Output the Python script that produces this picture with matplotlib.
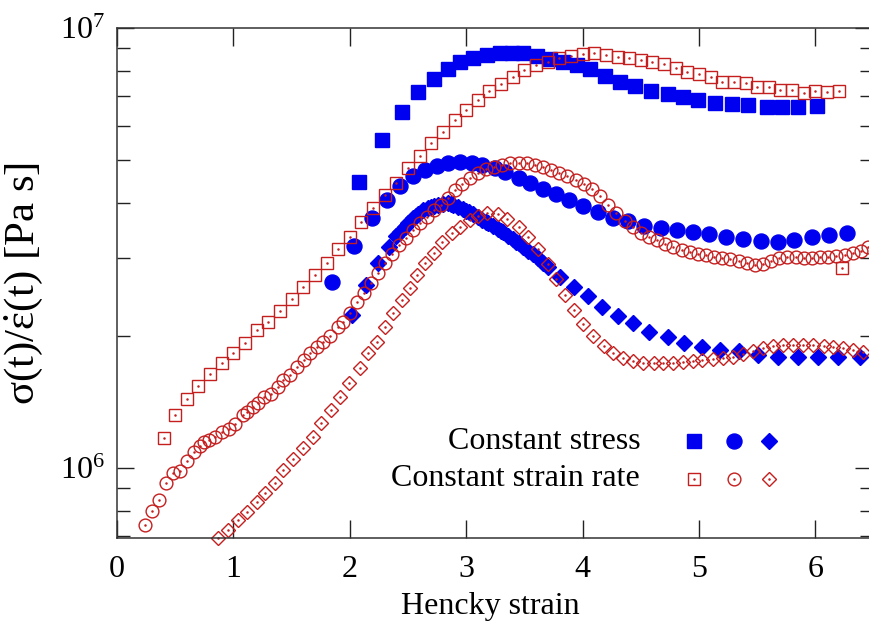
# Extensional viscosity vs Hencky strain: constant stress vs constant strain rate
import matplotlib
matplotlib.use("Agg")
from matplotlib import pyplot as plt
from matplotlib.ticker import LogLocator, NullFormatter, FixedLocator

plt.rcParams['font.family'] = ['Liberation Serif', 'DejaVu Serif']
plt.rcParams['mathtext.fontset'] = 'custom'
plt.rcParams['mathtext.rm'] = 'Liberation Serif'
plt.rcParams['mathtext.it'] = 'Liberation Serif:italic'

# constant stress (filled blue)
cs_sq_x = [2.08, 2.28, 2.45, 2.59, 2.72, 2.84, 2.95, 3.06, 3.18, 3.29, 3.39, 3.49, 3.61, 3.72, 3.83, 3.95,
           4.06, 4.19, 4.32, 4.45, 4.59, 4.73, 4.86, 4.99, 5.14, 5.28, 5.42, 5.58, 5.71, 5.85, 6.01]
cs_sq_y = [4.47e6, 5.56e6, 6.44e6, 7.15e6, 7.66e6, 8.07e6, 8.37e6, 8.55e6, 8.68e6, 8.77e6, 8.77e6, 8.77e6,
           8.64e6, 8.50e6, 8.37e6, 8.24e6, 8.05e6, 7.78e6, 7.54e6, 7.38e6, 7.19e6, 7.08e6, 6.97e6, 6.86e6,
           6.75e6, 6.72e6, 6.68e6, 6.61e6, 6.61e6, 6.61e6, 6.65e6]

cs_ci_x = [1.85, 2.04, 2.19, 2.32, 2.43, 2.54, 2.65, 2.75, 2.84, 2.95, 3.05, 3.14, 3.25, 3.33, 3.45, 3.55,
           3.66, 3.77, 3.88, 4.00, 4.13, 4.26, 4.39, 4.53, 4.67, 4.81, 4.95, 5.09, 5.23, 5.38, 5.53, 5.68,
           5.82, 5.97, 6.12, 6.27]
cs_ci_y = [2.65e6, 3.20e6, 3.70e6, 4.07e6, 4.38e6, 4.61e6, 4.76e6, 4.86e6, 4.93e6, 4.96e6, 4.93e6, 4.88e6,
           4.81e6, 4.71e6, 4.56e6, 4.45e6, 4.31e6, 4.20e6, 4.07e6, 3.94e6, 3.82e6, 3.70e6, 3.64e6, 3.55e6,
           3.51e6, 3.47e6, 3.44e6, 3.40e6, 3.35e6, 3.32e6, 3.28e6, 3.26e6, 3.30e6, 3.35e6, 3.38e6, 3.42e6]

cs_di_x = [2.02, 2.14, 2.24, 2.34, 2.40, 2.43, 2.47, 2.50, 2.54, 2.57, 2.59, 2.63, 2.67, 2.70, 2.72, 2.76,
           2.80, 2.84, 2.87, 2.89, 2.93, 2.97, 3.00, 3.02, 3.06, 3.10, 3.14, 3.17, 3.19, 3.23, 3.27, 3.30,
           3.32, 3.36, 3.40, 3.43, 3.45, 3.49, 3.53, 3.57, 3.62, 3.66, 3.70, 3.81, 3.93, 4.05, 4.17, 4.30,
           4.43, 4.57, 4.73, 4.87, 5.03, 5.18, 5.34, 5.51, 5.68, 5.85, 6.02, 6.19, 6.38]
cs_di_y = [2.23e6, 2.61e6, 2.92e6, 3.18e6, 3.36e6, 3.44e6, 3.53e6, 3.60e6, 3.69e6, 3.74e6, 3.78e6, 3.85e6,
           3.90e6, 3.92e6, 3.94e6, 3.96e6, 3.99e6, 4.00e6, 3.99e6, 3.97e6, 3.92e6, 3.87e6, 3.84e6, 3.82e6,
           3.77e6, 3.72e6, 3.66e6, 3.62e6, 3.60e6, 3.55e6, 3.49e6, 3.45e6, 3.43e6, 3.37e6, 3.31e6, 3.27e6,
           3.25e6, 3.18e6, 3.11e6, 3.06e6, 3.00e6, 2.93e6, 2.86e6, 2.72e6, 2.58e6, 2.46e6, 2.32e6, 2.22e6,
           2.14e6, 2.04e6, 1.98e6, 1.92e6, 1.88e6, 1.85e6, 1.84e6, 1.81e6, 1.79e6, 1.79e6, 1.79e6, 1.79e6,
           1.79e6]

# constant strain rate (open red)
sr_sq_x = [0.4, 0.5, 0.6, 0.7, 0.8, 0.9, 1.0, 1.1, 1.2, 1.3, 1.4, 1.5, 1.6, 1.7, 1.8, 1.9, 2.0, 2.1, 2.2,
           2.3, 2.4, 2.5, 2.6, 2.7, 2.8, 2.9, 3.0, 3.1, 3.2, 3.3, 3.4, 3.5, 3.6, 3.7, 3.8, 3.9, 4.0, 4.1,
           4.2, 4.3, 4.4, 4.5, 4.6, 4.7, 4.8, 4.9, 5.0, 5.1, 5.2, 5.3, 5.4, 5.5, 5.6, 5.7, 5.8, 5.9, 6.0,
           6.1, 6.2, 6.23]
sr_sq_y = [1.170e6, 1.320e6, 1.435e6, 1.536e6, 1.635e6, 1.732e6, 1.826e6, 1.923e6, 2.059e6, 2.147e6,
           2.274e6, 2.422e6, 2.578e6, 2.746e6, 2.923e6, 3.145e6, 3.350e6, 3.623e6, 3.899e6, 4.174e6,
           4.445e6, 4.808e6, 5.119e6, 5.479e6, 5.803e6, 6.178e6, 6.510e6, 6.86e6, 7.19e6, 7.46e6, 7.74e6,
           8.03e6, 8.24e6, 8.37e6, 8.55e6, 8.64e6, 8.73e6, 8.77e6, 8.68e6, 8.59e6, 8.55e6, 8.46e6, 8.37e6,
           8.29e6, 8.11e6, 7.94e6, 7.86e6, 7.74e6, 7.54e6, 7.54e6, 7.50e6, 7.34e6, 7.34e6, 7.23e6, 7.23e6,
           7.12e6, 7.19e6, 7.15e6, 7.19e6, 2.85e6]

sr_ci_x = [0.24, 0.30, 0.36, 0.42, 0.48, 0.54, 0.60, 0.66, 0.71, 0.75, 0.79, 0.84, 0.90, 0.96, 1.01, 1.08,
           1.12, 1.17, 1.21, 1.26, 1.32, 1.38, 1.43, 1.49, 1.55, 1.61, 1.66, 1.72, 1.77, 1.83, 1.90, 1.94,
           2.00, 2.06, 2.12, 2.18, 2.24, 2.30, 2.36, 2.42, 2.48, 2.54, 2.60, 2.66, 2.72, 2.78, 2.84, 2.90,
           2.96, 3.03, 3.10, 3.17, 3.24, 3.31, 3.38, 3.45, 3.52, 3.59, 3.66, 3.73, 3.80, 3.87, 3.94, 4.01,
           4.08, 4.15, 4.22, 4.29, 4.36, 4.43, 4.50, 4.57, 4.64, 4.71, 4.78, 4.85, 4.92, 4.99, 5.06, 5.13,
           5.20, 5.27, 5.34, 5.41, 5.48, 5.55, 5.62, 5.69, 5.76, 5.83, 5.90, 5.97, 6.04, 6.11, 6.18, 6.25,
           6.32, 6.39, 6.45]
sr_ci_y = [7.42e5, 8.00e5, 8.46e5, 9.25e5, 9.74e5, 9.86e5, 1.039e6, 1.089e6, 1.124e6, 1.148e6, 1.158e6,
           1.178e6, 1.209e6, 1.227e6, 1.259e6, 1.320e6, 1.343e6, 1.378e6, 1.403e6, 1.448e6, 1.471e6,
           1.531e6, 1.585e6, 1.627e6, 1.694e6, 1.760e6, 1.823e6, 1.887e6, 1.937e6, 1.995e6, 2.094e6,
           2.150e6, 2.25e6, 2.38e6, 2.50e6, 2.63e6, 2.77e6, 2.92e6, 3.07e6, 3.21e6, 3.34e6, 3.47e6, 3.60e6,
           3.72e6, 3.85e6, 3.97e6, 4.10e6, 4.28e6, 4.43e6, 4.57e6, 4.68e6, 4.77e6, 4.83e6, 4.88e6, 4.93e6,
           4.94e6, 4.93e6, 4.89e6, 4.82e6, 4.75e6, 4.67e6, 4.60e6, 4.52e6, 4.42e6, 4.30e6, 4.15e6, 3.95e6,
           3.80e6, 3.65e6, 3.52e6, 3.42e6, 3.35e6, 3.29e6, 3.23e6, 3.18e6, 3.13e6, 3.10e6, 3.07e6, 3.05e6,
           3.02e6, 3.00e6, 2.98e6, 2.96e6, 2.93e6, 2.90e6, 2.91e6, 2.96e6, 3.00e6, 3.01e6, 3.02e6, 3.00e6,
           3.00e6, 3.01e6, 3.02e6, 3.04e6, 3.05e6, 3.08e6, 3.12e6, 3.18e6]

sr_di_x = [0.87, 0.95, 1.04, 1.12, 1.20, 1.27, 1.36, 1.43, 1.51, 1.60, 1.68, 1.75, 1.84, 1.92, 1.99, 2.09,
           2.16, 2.23, 2.30, 2.37, 2.45, 2.52, 2.58, 2.65, 2.72, 2.79, 2.88, 2.95, 3.03, 3.10, 3.18, 3.27,
           3.35, 3.45, 3.53, 3.62, 3.70, 3.77, 3.85, 3.93, 4.00, 4.09, 4.18, 4.26, 4.35, 4.43, 4.52, 4.61,
           4.69, 4.78, 4.86, 4.95, 5.03, 5.12, 5.21, 5.29, 5.38, 5.46, 5.55, 5.64, 5.72, 5.81, 5.89, 5.98,
           6.07, 6.15, 6.24, 6.32, 6.41]
sr_di_y = [6.93e5, 7.23e5, 7.62e5, 7.94e5, 8.37e5, 8.77e5, 9.24e5, 9.90e5, 1.048e6, 1.110e6, 1.176e6,
           1.266e6, 1.354e6, 1.450e6, 1.561e6, 1.688e6, 1.826e6, 1.934e6, 2.092e6, 2.251e6, 2.409e6,
           2.566e6, 2.746e6, 2.923e6, 3.080e6, 3.262e6, 3.420e6, 3.529e6, 3.661e6, 3.739e6, 3.797e6,
           3.778e6, 3.680e6, 3.529e6, 3.350e6, 3.145e6, 2.908e6, 2.689e6, 2.473e6, 2.286e6, 2.125e6,
           1.995e6, 1.894e6, 1.826e6, 1.778e6, 1.751e6, 1.732e6, 1.732e6, 1.732e6, 1.732e6, 1.742e6,
           1.751e6, 1.760e6, 1.770e6, 1.778e6, 1.787e6, 1.816e6, 1.845e6, 1.874e6, 1.894e6, 1.903e6,
           1.903e6, 1.903e6, 1.903e6, 1.894e6, 1.884e6, 1.874e6, 1.854e6, 1.835e6]

x_ticks = [0, 1, 2, 3, 4, 5, 6]
legend_labels = ["Constant stress", "Constant strain rate"]

blue = '#0000f0'
red = '#c41e1e'
sq_ms, ci_ms, di_ms = 10.4, 10.8, 8.2
osq_ms, oci_ms, odi_ms = 8.6, 9.2, 7.4

fig = plt.figure(figsize=(8.69, 6.24), dpi=100)
ax = fig.add_axes([117/869, 86/624, 755/869, 510/624])
ax.set_yscale('log')

# filled markers
ax.plot(cs_sq_x, cs_sq_y, 's', ms=sq_ms, color=blue, mec=blue, clip_on=False)
ax.plot(cs_ci_x, cs_ci_y, 'o', ms=ci_ms, color=blue, mec=blue, clip_on=False)
ax.plot(cs_di_x, cs_di_y, 'D', ms=di_ms, color=blue, mec=blue, clip_on=False)

# open markers with a centre dot
for xs, ys, m, s in [(sr_sq_x, sr_sq_y, 's', osq_ms), (sr_ci_x, sr_ci_y, 'o', oci_ms),
                     (sr_di_x, sr_di_y, 'D', odi_ms)]:
    ax.plot(xs, ys, m, ms=s, mfc='none', mec=red, mew=1.0, clip_on=False)
    ax.plot(xs, ys, '.', ms=1.6, color=red, clip_on=False)

ax.set_xlim(0, 755/116.4)
ax.set_ylim(6.93e5, 1e7)
ax.xaxis.set_major_locator(FixedLocator(x_ticks))
ax.yaxis.set_major_locator(LogLocator(base=10))
ax.yaxis.set_minor_locator(LogLocator(base=10, subs=range(2, 10)))
ax.yaxis.set_minor_formatter(NullFormatter())

ax.tick_params(axis='both', which='both', direction='in', top=True, right=True,
               labelsize=23, colors='#222222', labelcolor='black', width=1.0)
ax.tick_params(axis='x', which='major', length=13, pad=12)
ax.tick_params(axis='y', which='major', length=12, pad=9)
ax.tick_params(axis='y', which='minor', length=9)
for sp in ax.spines.values():
    sp.set_linewidth(1.1)
    sp.set_color('#333333')

ax.set_xlabel("Hencky strain", fontsize=23)
ax.xaxis.set_label_coords(0.494, -0.105)
ax.set_ylabel(r"σ(t)/$\dot{\mathrm{ε}}$(t) [Pa s]", fontsize=31)
ax.yaxis.set_label_coords(-0.095, 0.5)

# legend drawn by hand: right aligned labels, markers to the right
ax.text(0.693, 0.190, legend_labels[0], transform=ax.transAxes, ha='right', va='center', fontsize=23)
ax.text(0.693, 0.116, legend_labels[1], transform=ax.transAxes, ha='right', va='center', fontsize=23)
for xp, m, s in [(0.764, 's', sq_ms), (0.817, 'o', ci_ms), (0.864, 'D', di_ms)]:
    ax.plot([xp], [0.190], m, ms=s, color=blue, transform=ax.transAxes)
for xp, m, s in [(0.764, 's', osq_ms), (0.817, 'o', oci_ms), (0.864, 'D', odi_ms)]:
    ax.plot([xp], [0.116], m, ms=s, mfc='none', mec=red, mew=1.0, transform=ax.transAxes)
    ax.plot([xp], [0.116], '.', ms=1.6, color=red, transform=ax.transAxes)

fig.savefig("out.png", dpi=100)
